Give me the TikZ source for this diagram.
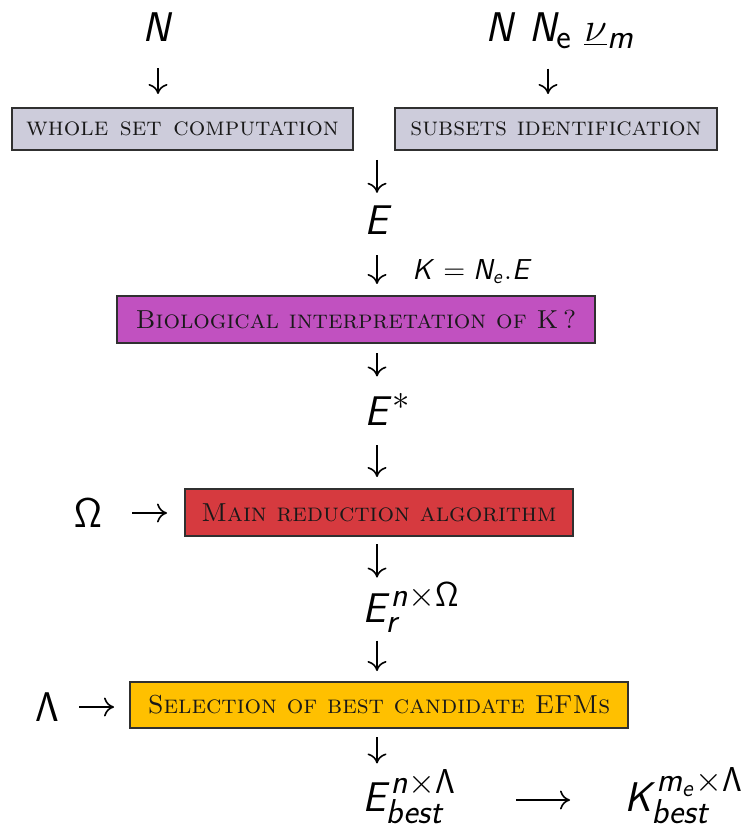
\documentclass[tikz,border=0pt]{standalone}
\usetikzlibrary{arrows.meta}
\DeclareMathAlphabet{\mathsfit}{OT1}{cmss}{m}{sl}
\DeclareMathAlphabet{\mathsfup}{OT1}{cmss}{m}{n}
\DeclareMathSizes{20.74}{20.74}{16}{12}
\newcommand\sfi[1]{\mathsfit{#1}}
\definecolor{boxgray}{HTML}{CDCCDB}
\definecolor{boxpurple}{HTML}{C151C0}
\definecolor{boxred}{HTML}{D63A3F}
\definecolor{boxyellow}{HTML}{FFC000}
\definecolor{edge}{HTML}{303030}
\tikzset{
  stepbox/.style={draw=edge, line width=1pt, inner sep=0pt,
    font=\fontsize{13}{15}\selectfont\scshape, text=black!90},
  mth/.style={font=\fontsize{20.74}{25}\selectfont, inner sep=0pt},
  lbl/.style={font=\fontsize{14}{16}\selectfont, inner sep=0pt},
  arr/.style={line width=0.8pt,
    -{Computer Modern Rightarrow[length=5pt,width=9.5pt,line width=0.8pt]}},
}
\begin{document}
\begin{tikzpicture}[x=0.5pt,y=-0.5pt]
\useasboundingbox (0,0) rectangle (746,828);
\coordinate (axis) at (377,0);
% inputs
\node[mth,anchor=base] (nL) at (158,42) {$\sfi{N}$};
\node[mth,anchor=base] (nR) at (560,42) {$\sfi{N}\ \sfi{N}_{\mathsfup{e}}\ \underline{\nu}_{\sfi{m}}$};
\coordinate (rax) at (548,0);
% boxes
\node[stepbox,fill=boxgray,minimum width=170.5pt,minimum height=21pt] (b1) at (182.5,129) {whole\hspace{0.45em}set\hspace{0.45em}computation};
\node[stepbox,fill=boxgray,minimum width=161pt,minimum height=21pt] (b2) at (556,129) {subsets identification};
\node[stepbox,fill=boxpurple,minimum width=239pt,minimum height=23.5pt] (b3) at (356,319.5) {Biological interpretation of K\,?};
\node[stepbox,fill=boxred,minimum width=194pt,minimum height=23.5pt] (b4) at (379,512.5) {Main reduction algorithm};
\node[stepbox,fill=boxyellow,minimum width=249pt,minimum height=23pt] (b5) at (379,705) {Selection of best candidate EFMs};
% math nodes
\node[mth,anchor=base west] (E) at (364,235) {$\sfi{E}$};
\node[lbl,anchor=base west] (klab) at (412,279) {$\sfi{K} = \sfi{N}_{\sfi{e}} . \sfi{E}$};
\node[mth,anchor=base west] (Es) at (364,425) {$\sfi{E}^{*}$};
\node[mth,anchor=base west] (Er) at (362,622) {$\sfi{E}_{\sfi{r}}^{\sfi{n}\times\mathsfup{\Omega}}$};
\node[mth,anchor=base west] (Eb) at (362,811) {$\sfi{E}_{\sfi{best}}^{\sfi{n}\times\mathsfup{\Lambda}}$};
\node[mth,anchor=base west] (Kb) at (624,811) {$\sfi{K}_{\sfi{best}}^{\sfi{m}_{\sfi{e}}\times\mathsfup{\Lambda}}$};
\node[mth] (Om) at (88,513) {$\mathsfup{\Omega}$};
\node[mth] (La) at (47,707) {$\mathsfup{\Lambda}$};
\coordinate (split) at (377,150);
% connectors
\draw[arr,shorten <=13pt,shorten >=6.5pt] (nL.south) -- (nL.south |- b1.north);
\draw[arr,shorten <=10pt,shorten >=6.5pt] (nR.south -| rax) -- (rax |- b2.north);
\draw[arr,shorten <=5pt,shorten >=6.5pt] (split) -- (split |- E.north);
\draw[arr,shorten <=10pt,shorten >=5.5pt] (E.south -| axis) -- (axis |- b3.north);
\draw[arr,shorten <=4.5pt,shorten >=8.5pt] (b3.south -| axis) -- (axis |- Es.north);
\draw[arr,shorten <=10pt,shorten >=5.5pt] (Es.south -| axis) -- (axis |- b4.north);
\draw[arr,shorten <=3.5pt,shorten >=2.5pt] (b4.south -| axis) -- (axis |- Er.north);
\draw[arr,shorten <=4pt,shorten >=5pt] (Er.south -| axis) -- (axis |- b5.north);
\draw[arr,shorten <=4pt,shorten >=3pt] (b5.south -| axis) -- (axis |- Eb.north);
\draw[arr,shorten <=30pt,shorten >=27pt] ([yshift=5.5pt]Eb.base east) -- ([yshift=5.5pt]Kb.base west);
\draw[arr,shorten <=15pt,shorten >=8.5pt] (Om.east) -- (Om.east -| b4.west);
\draw[arr,shorten <=10pt,shorten >=7.5pt] (La.east) -- (La.east -| b5.west);
\end{tikzpicture}
\end{document}
